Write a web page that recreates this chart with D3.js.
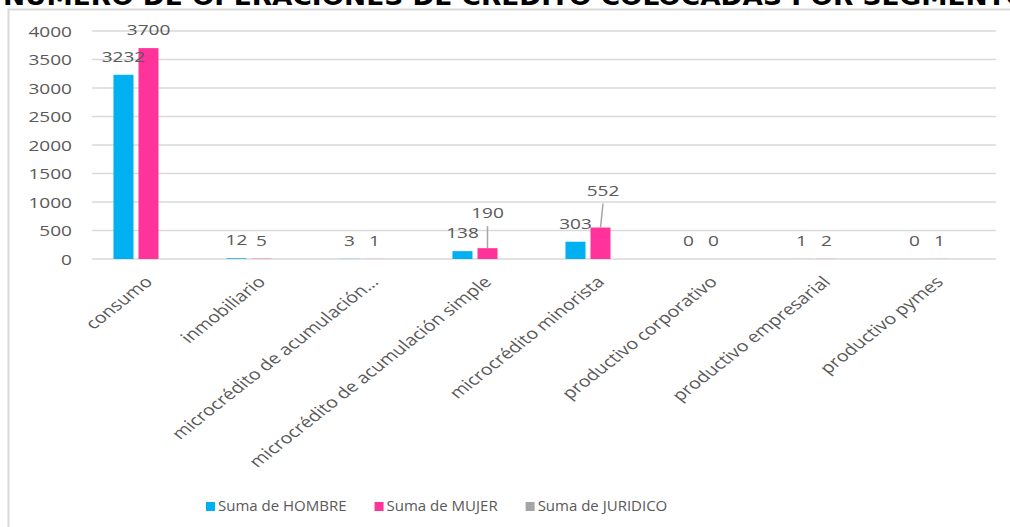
<!DOCTYPE html>
<html>
<head>
<meta charset="utf-8">
<script src="https://cdn.jsdelivr.net/npm/d3@7"></script>
<style>
  html, body { margin: 0; padding: 0; background: #ffffff; overflow: hidden; }
  svg { display: block; }
</style>
</head>
<body>
<svg id="chart" width="1010" height="527"></svg>
<script>
// ---- data ----
const titleText = "NÚMERO DE OPERACIONES DE CRÉDITO COLOCADAS POR SEGMENTO";
const categories = [
  "consumo",
  "inmobiliario",
  "microcrédito de acumulación…",
  "microcrédito de acumulación simple",
  "microcrédito minorista",
  "productivo corporativo",
  "productivo empresarial",
  "productivo pymes"
];
const seriesNames = ["Suma de HOMBRE", "Suma de MUJER", "Suma de JURIDICO"];
const hombre   = [3232, 12, 3, 138, 303, 0, 1, 0];
const mujer    = [3700, 5, 1, 190, 552, 0, 2, 1];
const juridico = [null, null, null, null, null, null, null, null];
const yTicks = [0, 500, 1000, 1500, 2000, 2500, 3000, 3500, 4000];
const seriesColors = ["#00B0F0", "#FF3399", "#A5A5A5"];

// ---- layout ----
const svg = d3.select("#chart");
const W = 1010, H = 527;
const SX = 1.27; // horizontal stretch seen in the reference text
const plot = { left: 92, right: 996, top: 31, bottom: 259 };
const font = "'Open Sans', 'DejaVu Sans', sans-serif";
const textColor = "#595959";
const gridColor = "#d9d9d9";

svg.append("rect").attr("width", W).attr("height", H).attr("fill", "#fff");

// frame
svg.append("rect")
  .attr("x", 8.5).attr("y", 9.5)
  .attr("width", 1200).attr("height", 700)
  .attr("fill", "#fff")
  .attr("stroke", gridColor).attr("stroke-width", 2);

// title (cut off by top edge)
svg.append("text")
  .attr("x", 3).attr("y", 5)
  .attr("font-family", "'DejaVu Sans', sans-serif")
  .attr("font-weight", "bold")
  .attr("font-size", 24)
  .attr("fill", "#000")
  .attr("textLength", 1025)
  .attr("lengthAdjust", "spacingAndGlyphs")
  .text(titleText);

const x0 = d3.scaleBand()
  .domain(categories)
  .range([plot.left, plot.right])
  .paddingInner(0.38)
  .paddingOuter(0.19);

const x1 = d3.scaleBand()
  .domain(seriesNames)
  .range([0, x0.bandwidth()])
  .paddingInner(0.2)
  .paddingOuter(0);

const y = d3.scaleLinear().domain([0, 4000]).range([plot.bottom, plot.top]);

// gridlines
svg.append("g").selectAll("line")
  .data(yTicks)
  .join("line")
  .attr("x1", plot.left).attr("x2", plot.right)
  .attr("y1", d => y(d)).attr("y2", d => y(d))
  .attr("stroke", gridColor).attr("stroke-width", 1.5);

// y tick labels
svg.append("g").selectAll("text")
  .data(yTicks)
  .join("text")
  .attr("transform", d => `translate(72,${y(d) + 5.5}) scale(${SX},1)`)
  .attr("text-anchor", "end")
  .attr("font-family", font)
  .attr("font-size", 15)
  .attr("fill", textColor)
  .text(d => d);

// bars
const seriesData = [hombre, mujer, juridico];
const barsG = svg.append("g");
seriesData.forEach((vals, si) => {
  barsG.append("g").selectAll("rect")
    .data(vals.map((v, i) => ({ v, c: categories[i] })).filter(d => d.v != null))
    .join("rect")
    .attr("x", d => x0(d.c) + x1(seriesNames[si]))
    .attr("width", x1.bandwidth())
    .attr("y", d => y(d.v))
    .attr("height", d => y(0) - y(d.v))
    .attr("fill", seriesColors[si]);
});

// data labels (with manual offsets for moved labels)
const labelShift = { "1-3": [0, -17], "1-4": [2.5, -19] };
const labelsG = svg.append("g");
seriesData.forEach((vals, si) => {
  vals.forEach((v, i) => {
    if (v == null) return;
    const cx = x0(categories[i]) + x1(seriesNames[si]) + x1.bandwidth() / 2;
    const by = y(v) - 13;
    const sh = labelShift[si + "-" + i] || [0, 0];
    if (labelShift[si + "-" + i]) {
      labelsG.append("line")
        .attr("x1", cx + sh[0]).attr("y1", by + sh[1] + 8)
        .attr("x2", cx).attr("y2", y(v))
        .attr("stroke", "#a6a6a6").attr("stroke-width", 1.5);
    }
    labelsG.append("text")
      .attr("transform", `translate(${cx + sh[0]},${by + sh[1]}) scale(${SX},1)`)
      .attr("text-anchor", "middle")
      .attr("font-family", font)
      .attr("font-size", 15)
      .attr("fill", textColor)
      .text(v);
  });
});

// category labels
svg.append("g").selectAll("text")
  .data(categories)
  .join("text")
  .attr("transform", d => `translate(${x0(d) + x0.bandwidth() / 2 + 5},283) scale(${SX},1) rotate(-45)`)
  .attr("text-anchor", "end")
  .attr("font-family", font)
  .attr("font-size", 15.5)
  .attr("fill", textColor)
  .text(d => d);

// legend
const legend = svg.append("g");
let lx = 206;
seriesNames.forEach((name, i) => {
  legend.append("rect")
    .attr("x", lx).attr("y", 502)
    .attr("width", 9).attr("height", 9)
    .attr("fill", seriesColors[i]);
  const t = legend.append("text")
    .attr("x", lx + 12).attr("y", 511)
    .attr("font-family", font)
    .attr("font-size", 15)
    .attr("fill", textColor)
    .text(name);
  lx = lx + 12 + t.node().getComputedTextLength() + 28;
});
</script>
</body>
</html>
